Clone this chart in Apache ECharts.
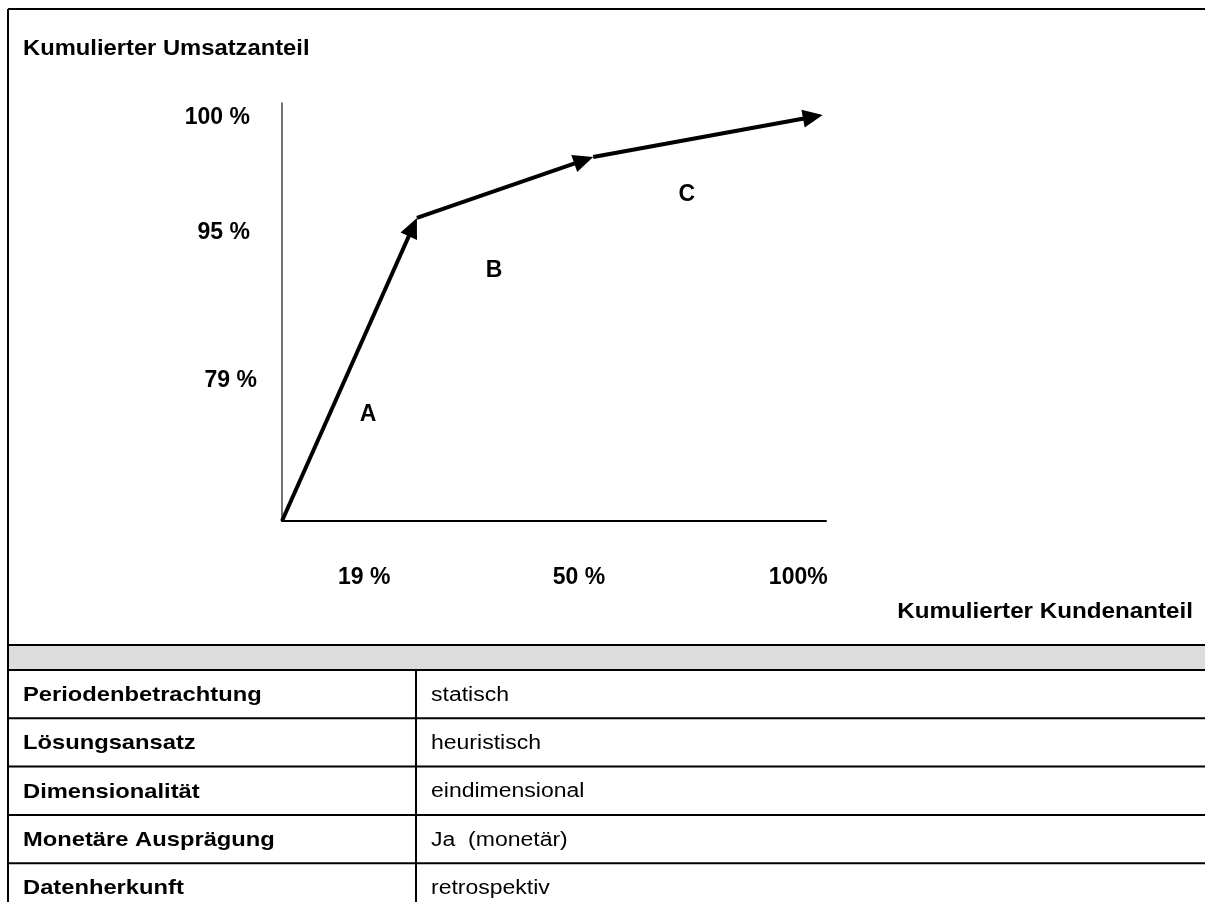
<!DOCTYPE html>
<html lang="de">
<head>
    <meta charset="UTF-8">
    <title>ABC-Analyse</title>
    <script src="https://cdn.jsdelivr.net/npm/echarts@6/dist/echarts.min.js"></script>
    <style>
        *{
            padding:0;
            margin:0;
        }
        html,body{
            background:#fff;
        }
        #main{
            width:1205px;
            height:902px;
        }
    </style>
</head>
<body>
<div id="main"></div>
<script>
    // Eckpunkte der Lorenzkurve (schematisch, wie gezeichnet)
    var kundenAnteil = [0, 24.8, 57.2, 99.4];
    var umsatzAnteil = [0, 72.5, 87.1, 97.1];

    // Achsenbeschriftungen
    var xTickPos = [15.1, 54.6, 94.9];
    var xTickLabels = ['19 %', '50 %', '100%'];
    var yTickPos = [96.6, 69.1, 33.5];
    var yTickLabels = ['100 %', '95 %', '79 %'];

    // Klassen A, B, C
    var klassen = ['A', 'B', 'C'];
    var klassenX = [15.8, 39.0, 74.4];
    var klassenY = [25.4, 59.8, 78.0];

    // Tabelle
    var merkmale = ['Periodenbetrachtung', 'Lösungsansatz', 'Dimensionalität', 'Monetäre Ausprägung', 'Datenherkunft'];
    var auspraegungen = ['statisch', 'heuristisch', 'eindimensional', 'Ja  (monetär)', 'retrospektiv'];

    var FONT = '"Liberation Sans", Arial, sans-serif';
    var myChart = echarts.init(document.getElementById('main'));

    // Segmente [x0, y0, x1, y1]
    var segmente = [];
    for (var i = 1; i < kundenAnteil.length; i++) {
        segmente.push([kundenAnteil[i - 1], umsatzAnteil[i - 1], kundenAnteil[i], umsatzAnteil[i]]);
    }

    var klassenDaten = klassen.map(function (k, i) {
        return {name: k, value: [klassenX[i], klassenY[i]]};
    });

    // Pfeil: Linie + Dreieck, Spitze genau auf dem Endpunkt
    function renderPfeil(params, api) {
        var p0 = api.coord([api.value(0), api.value(1)]);
        var p1 = api.coord([api.value(2), api.value(3)]);
        var dx = p1[0] - p0[0], dy = p1[1] - p0[1];
        var len = Math.sqrt(dx * dx + dy * dy);
        var ux = dx / len, uy = dy / len;
        var L = 20, W = 9;
        var bx = p1[0] - ux * L, by = p1[1] - uy * L;
        return {
            type: 'group',
            children: [
                {
                    type: 'line',
                    shape: {x1: p0[0], y1: p0[1], x2: p1[0] - ux * 8, y2: p1[1] - uy * 8},
                    style: {stroke: '#000', lineWidth: 4}
                },
                {
                    type: 'polygon',
                    shape: {points: [[p1[0], p1[1]], [bx - uy * W, by + ux * W], [bx + uy * W, by - ux * W]]},
                    style: {fill: '#000'}
                }
            ]
        };
    }

    // Rahmen + Tabelle
    var graphics = [];
    function hLine(y, x1, x2, w) {
        graphics.push({type: 'line', shape: {x1: x1, y1: y, x2: x2, y2: y}, style: {stroke: '#000', lineWidth: w || 2}});
    }
    function vLine(x, y1, y2, w) {
        graphics.push({type: 'line', shape: {x1: x, y1: y1, x2: x, y2: y2}, style: {stroke: '#000', lineWidth: w || 2}});
    }
    // text etwas breitgezogen wie im Scan
    function txt(s, x, y, font, sx, align) {
        graphics.push({
            type: 'text', x: x, y: y, scaleX: sx,
            style: {text: s, x: 0, y: 0, font: font, fill: '#000', textAlign: align || 'left', textVerticalAlign: 'middle'}
        });
    }
    graphics.push({type: 'rect', shape: {x: 8, y: 645, width: 1200, height: 25}, style: {fill: '#dcdcdc'}});
    hLine(9, 8, 1205);
    vLine(8, 9, 902);
    hLine(645, 8, 1205);
    hLine(670, 8, 1205);
    var rowTop = 670, rowH = 48.3;
    vLine(416, rowTop, 902);
    merkmale.forEach(function (m, i) {
        var cy = rowTop + rowH * i + rowH / 2 + 1;
        if (i > 0) hLine(rowTop + rowH * i, 8, 1205);
        txt(m, 23, cy, 'bold 21px ' + FONT, 1.13);
        txt(auspraegungen[i], 431, cy, '20px ' + FONT, 1.15);
    });
    txt('Kumulierter Umsatzanteil', 23, 49, 'bold 22px ' + FONT, 1.08);
    txt('Kumulierter Kundenanteil', 1193, 612, 'bold 22px ' + FONT, 1.1, 'right');

    var option = {
        backgroundColor: '#fff',
        animation: false,
        grid: {left: 282, top: 103, width: 544, height: 418},
        xAxis: {
            type: 'value',
            min: 0,
            max: 100,
            splitLine: {show: false},
            axisTick: {show: false},
            axisLine: {lineStyle: {color: '#000', width: 2}},
            axisLabel: {
                customValues: xTickPos,
                margin: 45,
                color: '#000',
                fontSize: 23,
                fontWeight: 'bold',
                fontFamily: FONT,
                formatter: function (v) {
                    return xTickLabels[xTickPos.indexOf(v)];
                }
            }
        },
        yAxis: {
            type: 'value',
            min: 0,
            max: 100,
            splitLine: {show: false},
            axisTick: {show: false},
            axisLine: {lineStyle: {color: '#444', width: 1.5}},
            axisLabel: {
                customValues: yTickPos,
                margin: 25,
                color: '#000',
                fontSize: 23,
                fontWeight: 'bold',
                fontFamily: FONT,
                formatter: function (v) {
                    var s = yTickLabels[yTickPos.indexOf(v)];
                    // 79 % steht im Original etwas weiter rechts
                    return s === '79 %' ? '{b|' + s + '}' : '{a|' + s + '}';
                },
                rich: {
                    a: {color: '#000', fontSize: 23, fontWeight: 'bold', fontFamily: FONT, padding: [0, 7, 0, 0]},
                    b: {color: '#000', fontSize: 23, fontWeight: 'bold', fontFamily: FONT}
                }
            }
        },
        graphic: graphics,
        series: [
            {
                type: 'custom',
                coordinateSystem: 'cartesian2d',
                renderItem: renderPfeil,
                encode: {x: [0, 2], y: [1, 3]},
                data: segmente
            },
            {
                type: 'scatter',
                symbolSize: 0,
                itemStyle: {opacity: 1, color: '#000'},
                data: klassenDaten,
                label: {
                    show: true,
                    position: 'inside',
                    formatter: '{b}',
                    color: '#000',
                    fontSize: 23,
                    fontWeight: 'bold',
                    fontFamily: FONT
                }
            }
        ]
    };
    myChart.setOption(option);
</script>
</body>
</html>
